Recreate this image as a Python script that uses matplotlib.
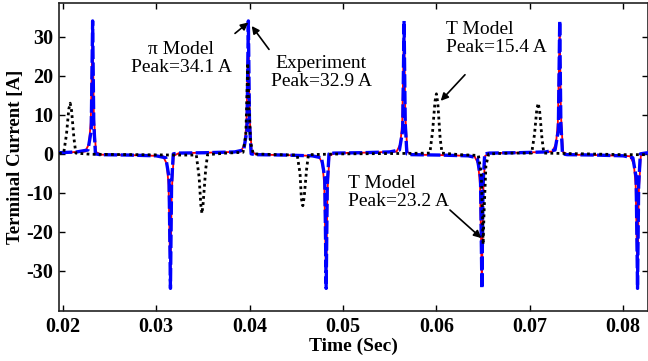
import matplotlib
matplotlib.use("Agg")
import matplotlib.pyplot as plt

# ---------------- data ----------------
exp_t = [0.0196, 0.0215,
         0.02240, 0.02280, 0.02300, 0.02320, 0.02333, 0.02355, 0.02410, 0.0270, 0.0300,
         0.03073, 0.03113, 0.03133, 0.03153, 0.03166, 0.03188, 0.03243, 0.0353, 0.0384,
         0.03907, 0.03947, 0.03967, 0.03987, 0.04000, 0.04022, 0.04077, 0.0437, 0.0467,
         0.04740, 0.04780, 0.04800, 0.04820, 0.04833, 0.04855, 0.04910, 0.0520, 0.0550,
         0.05574, 0.05614, 0.05634, 0.05654, 0.05667, 0.05689, 0.05744, 0.0603, 0.0634,
         0.06407, 0.06447, 0.06467, 0.06487, 0.06500, 0.06522, 0.06577, 0.0687, 0.0717,
         0.07240, 0.07280, 0.07300, 0.07320, 0.07333, 0.07355, 0.07410, 0.0770, 0.0800,
         0.08073, 0.08113, 0.08133, 0.08153, 0.08166, 0.08188, 0.08243, 0.0827]
exp_i = [0.2, 0.5,
         0.6, 2.5, 8, 32.9, 10, 0.5, -0.2, -0.3, -0.5,
         -0.6, -2.5, -8, -33.5, -10, -0.5, 0.2, 0.3, 0.5,
         0.6, 2.5, 8, 32.9, 10, 0.5, -0.2, -0.3, -0.5,
         -0.6, -2.5, -8, -33.5, -10, -0.5, 0.2, 0.3, 0.5,
         0.6, 2.5, 8, 32.9, 10, 0.5, -0.2, -0.3, -0.5,
         -0.6, -2.5, -8, -33.5, -10, -0.5, 0.2, 0.3, 0.5,
         0.6, 2.5, 8, 32.9, 10, 0.5, -0.2, -0.3, -0.5,
         -0.6, -2.5, -8, -33.5, -10, -0.5, 0.2, 0.3]

pi_t = [0.0196, 0.0215,
        0.02270, 0.02305, 0.02320, 0.02332, 0.02350, 0.02400, 0.0270, 0.0300,
        0.03103, 0.03138, 0.03153, 0.03165, 0.03183, 0.03233, 0.0353, 0.0384,
        0.03937, 0.03972, 0.03987, 0.03999, 0.04017, 0.04067, 0.0437, 0.0467,
        0.04770, 0.04805, 0.04820, 0.04832, 0.04850, 0.04900, 0.0520, 0.0550,
        0.05604, 0.05639, 0.05654, 0.05666, 0.05684, 0.05734, 0.0603, 0.0634,
        0.06437, 0.06472, 0.06487, 0.06499, 0.06517, 0.06567, 0.0687, 0.0717,
        0.07270, 0.07305, 0.07320, 0.07332, 0.07350, 0.07400, 0.0770, 0.0800,
        0.08103, 0.08138, 0.08153, 0.08165, 0.08183, 0.08233, 0.0827]
pi_i = [0.3, 0.5,
        1.0, 6, 34.1, 8, 0.0, -0.2, -0.3, -0.5,
        -1.0, -6, -34.5, -8, 0.0, 0.2, 0.3, 0.5,
        1.0, 6, 34.1, 8, 0.0, -0.2, -0.3, -0.5,
        -1.0, -6, -34.5, -8, 0.0, 0.2, 0.3, 0.5,
        1.0, 6, 34.1, 8, 0.0, -0.2, -0.3, -0.5,
        -1.0, -6, -34.5, -8, 0.0, 0.2, 0.3, 0.5,
        1.0, 6, 34.1, 8, 0.0, -0.2, -0.3, -0.5,
        -1.0, -6, -34.5, -8, 0.0, 0.2, 0.3]

t_t = [0.0196, 0.0201,
       0.0204, 0.02065, 0.0208, 0.02095, 0.0212, 0.0214,
       0.0230, 0.0280, 0.0320, 0.0343,
       0.0346, 0.03478, 0.0349, 0.03502, 0.0353, 0.0355,
       0.0375, 0.0393,
       0.0396, 0.03972, 0.0398, 0.0399, 0.0401, 0.0404,
       0.0430, 0.0451,
       0.0454, 0.04555, 0.0457, 0.04585, 0.0461, 0.0463,
       0.0500, 0.0560, 0.0593,
       0.0596, 0.05985, 0.0600, 0.06015, 0.0604, 0.0606,
       0.0625, 0.0645,
       0.0648, 0.06492, 0.0650, 0.0651, 0.0653, 0.0656,
       0.0680, 0.0702,
       0.0705, 0.07075, 0.0709, 0.07105, 0.0713, 0.0715,
       0.0760, 0.0800, 0.0827]
t_i = [0.2, 0.2,
       5, 11.5, 13, 11, 4, 0.2,
       -0.1, -0.2, -0.3, -0.3,
       -6, -13, -15.3, -13, -4, -0.2,
       0.2, 0.4,
       5, 15, 23.3, 15, 3, 0.0,
       -0.2, -0.3,
       -5, -11.5, -13.3, -11, -4, -0.2,
       0.0, 0.1, 0.2,
       6, 13.5, 15.4, 13, 4, 0.2,
       -0.2, -0.4,
       -5, -15, -23.2, -15, -3, 0.0,
       0.2, 0.2,
       5, 11.5, 13, 11, 4, 0.2,
       0.0, -0.2, -0.2]

x_ticks = [0.02, 0.03, 0.04, 0.05, 0.06, 0.07, 0.08]
x_ticklabels = ["0.02", "0.03", "0.04", "0.05", "0.06", "0.07", "0.08"]
y_ticks = [-30, -20, -10, 0, 10, 20, 30]
y_ticklabels = ["-30", "-20", "-10", "0", "10", "20", "30"]

# ---------------- figure ----------------
plt.rcParams['font.family'] = ['Liberation Serif', 'DejaVu Serif']
fig = plt.figure(figsize=(6.48, 3.61), dpi=100)
ax = fig.add_axes([59 / 648, 1 - 311 / 361, 1 - 59 / 648, (311 - 3) / 361])

ax.plot(exp_t, exp_i, color='red', lw=1.3, zorder=2)
ax.plot(pi_t, pi_i, color='blue', lw=2.4, dashes=(4, 1), zorder=3)
ax.plot(t_t, t_i, color='black', lw=2.0, dashes=(1, 1.2), zorder=4)

ax.set_xlim(0.0196, 0.08265)
ax.set_ylim(-40.3, 38.7)
ax.set_xticks(x_ticks)
ax.set_xticklabels(x_ticklabels)
ax.set_yticks(y_ticks)
ax.set_yticklabels(y_ticklabels)
ax.tick_params(direction='in', top=True, right=True, length=4, width=1,
               labelsize=14.5, pad=4)
for lab in ax.get_xticklabels() + ax.get_yticklabels():
    lab.set_fontweight('bold')
for sp in ax.spines.values():
    sp.set_linewidth(1.2)
    sp.set_color('#222222')

ax.set_xlabel("Time (Sec)", fontsize=14, fontweight='bold', labelpad=1)
ax.set_ylabel("Terminal Current [A]", fontsize=13.5, fontweight='bold', labelpad=2)

aprops = dict(arrowstyle='-|>', color='black', lw=1.2, mutation_scale=11,
              shrinkA=0, shrinkB=0)
ax.text(0.03266, 24.4, "π Model\nPeak=34.1 A", ha='center', va='center',
        fontsize=14, linespacing=1.1)
ax.annotate("", xy=(0.03986, 33.7), xytext=(0.03844, 30.9), arrowprops=aprops)

ax.text(0.04765, 20.9, "Experiment\nPeak=32.9 A", ha='center', va='center',
        fontsize=14, linespacing=1.1)
ax.annotate("", xy=(0.04023, 32.8), xytext=(0.04208, 26.8), arrowprops=aprops)

ax.text(0.06103, 29.6, "T Model\nPeak=15.4 A", ha='left', va='center',
        fontsize=14, linespacing=1.1)
ax.annotate("", xy=(0.06046, 13.6), xytext=(0.06306, 20.3), arrowprops=aprops)

ax.text(0.05054, -9.9, "T Model\nPeak=23.2 A", ha='left', va='center',
        fontsize=14, linespacing=1.1)
ax.annotate("", xy=(0.06481, -21.6), xytext=(0.06145, -14.4), arrowprops=aprops)

fig.savefig("out.png", dpi=100)
